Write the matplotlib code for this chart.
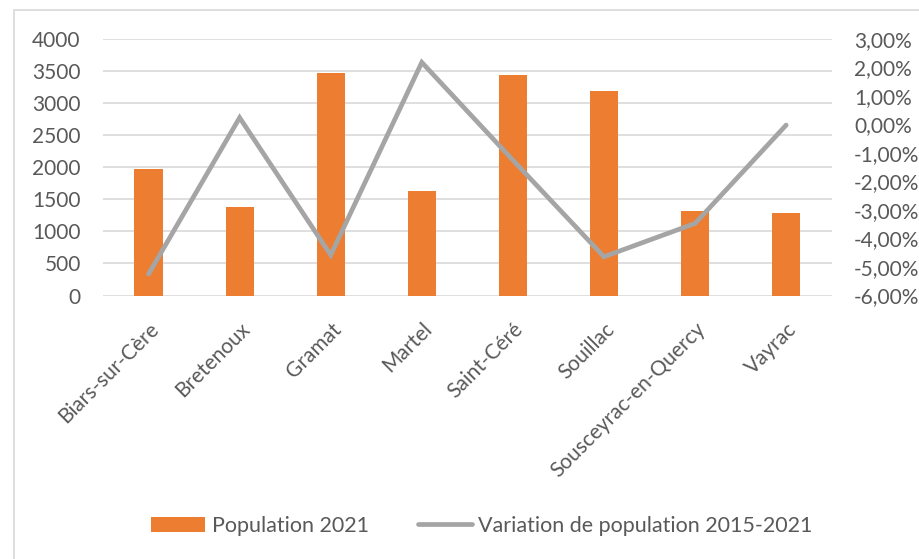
import matplotlib.pyplot as plt
import matplotlib.patches as mpatches
from matplotlib.ticker import FuncFormatter
import numpy as np

communes = ['Biars-sur-Cère', 'Bretenoux', 'Gramat', 'Martel', 'Saint-Céré',
            'Souillac', 'Sousceyrac-en-Quercy', 'Vayrac']
population = [1970, 1380, 3475, 1630, 3440, 3190, 1325, 1285]
variation = [-5.25, 0.24, -4.58, 2.18, -1.25, -4.64, -3.47, -0.02]  # en %

orange = '#ed7d31'
gris = '#a5a5a5'
txt = '#595959'
fs = 15

plt.rcParams['font.family'] = ['Lato', 'DejaVu Sans']

fig = plt.figure(figsize=(9.19, 5.59), dpi=100)
ax = fig.add_axes([103/919, 1-295.5/559, 728.7/919, 256.5/559])
x = np.arange(len(communes))

ax.bar(x, population, width=0.31, color=orange, zorder=3, label='Population 2021')
ax.set_xlim(-0.5, len(communes) - 0.5)
ax.set_ylim(0, 4000)
ax.set_yticks(range(0, 4001, 500))
ax.grid(axis='y', color='#d9d9d9', linewidth=1.2, zorder=0)
for s in ax.spines.values():
    s.set_visible(False)
ax.tick_params(length=0, labelsize=fs, colors=txt)
ax.tick_params(axis='y', pad=16)
ax.set_xticks(x)
ax.set_xticklabels(communes, rotation=45, ha='right', va='top',
                   rotation_mode='anchor', fontsize=fs, color=txt)
ax.tick_params(axis='x', pad=17)

ax2 = ax.twinx()
ax2.plot(x, variation, color=gris, linewidth=3.4, solid_capstyle='round',
         solid_joinstyle='miter', zorder=4, label='Variation de population 2015-2021')
ax2.set_ylim(-6, 3)
ax2.set_yticks(range(-6, 4))
ax2.yaxis.set_major_formatter(FuncFormatter(lambda v, p: f'{v:.2f}%'.replace('.', ',')))
for s in ax2.spines.values():
    s.set_visible(False)
ax2.tick_params(length=0, labelsize=fs, colors=txt, pad=16)

# cadre du graphique
fig.patches.append(mpatches.Rectangle((14/919, -0.1), 1.2, 1 - 10/559 + 0.1,
                                      transform=fig.transFigure, fill=False,
                                      edgecolor='#d9d9d9', linewidth=1.2))

h1, l1 = ax.get_legend_handles_labels()
h2, l2 = ax2.get_legend_handles_labels()
fig.legend(h1 + h2, l1 + l2, loc='center', bbox_to_anchor=(482/919, 1 - 526/559),
           ncol=2, frameon=False, fontsize=15.5, labelcolor=txt,
           handlelength=2.5, handletextpad=0.3, columnspacing=2.3)

fig.savefig('out.png', dpi=100)
